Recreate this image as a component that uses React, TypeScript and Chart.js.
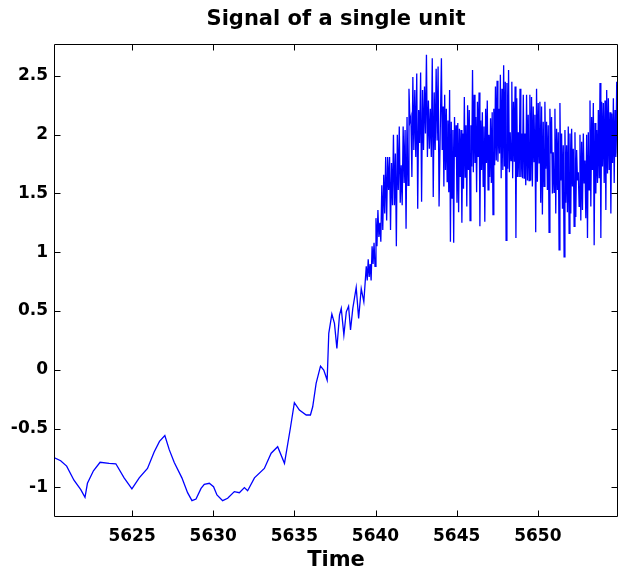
import React, { useEffect, useRef } from "react";
import { Chart, registerables } from "chart.js";

Chart.register(...registerables);

const TITLE = "Signal of a single unit";
const X_LABEL = "Time";
const X_MIN = 5620.19;
const X_MAX = 5654.94;
const Y_MIN = -1.253;
const Y_MAX = 2.77;
const xTickValues = [5625, 5630, 5635, 5640, 5645, 5650];
const yTickValues = [-1, -0.5, 0, 0.5, 1, 1.5, 2, 2.5];

// slow part of the signal (before the burst)
const smoothTimes = [
  5620.19, 5620.6, 5620.97, 5621.42, 5621.84, 5622.1, 5622.25, 5622.62, 5623.03, 5623.59,
  5624.0, 5624.51, 5624.99, 5625.44, 5625.95, 5626.36, 5626.69, 5627.02, 5627.29, 5627.6,
  5628.07, 5628.42, 5628.69, 5628.94, 5629.25, 5629.45, 5629.76, 5630.02, 5630.23, 5630.58,
  5630.89, 5631.3, 5631.61, 5631.92, 5632.12, 5632.54, 5633.15, 5633.57, 5633.97, 5634.39,
  5634.75, 5635.0, 5635.31, 5635.73, 5635.99, 5636.13, 5636.34, 5636.61, 5636.81, 5637.02,
  5637.12, 5637.31, 5637.47, 5637.62, 5637.78, 5637.89, 5638.05, 5638.2, 5638.34, 5638.46,
  5638.6, 5638.81, 5638.96, 5639.12, 5639.28,
];
const smoothValues = [
  -0.748, -0.774, -0.82, -0.94, -1.02, -1.085, -0.966, -0.86, -0.787, -0.796,
  -0.8, -0.92, -1.014, -0.92, -0.84, -0.7, -0.61, -0.56, -0.68, -0.79,
  -0.92, -1.046, -1.114, -1.1, -1.01, -0.975, -0.966, -0.995, -1.065, -1.114,
  -1.094, -1.037, -1.046, -1.003, -1.03, -0.92, -0.84, -0.71, -0.655, -0.796,
  -0.5, -0.28, -0.343, -0.385, -0.385, -0.315, -0.116, 0.031, -0.003, -0.088,
  0.31, 0.474, 0.395, 0.182, 0.465, 0.522, 0.295, 0.493, 0.54, 0.338,
  0.522, 0.7, 0.437, 0.69, 0.578,
];

// burst: each oscillation has a peak value and a trough value
const burstAStart = 5639.43;
const burstAStep = 0.1196;
const burstAHigh = [
  0.88, 0.94, 0.9, 1.05, 1.08, 1.29, 1.36, 1.25, 1.57, 1.66,
  1.81, 1.81, 1.81, 1.76, 2.0, 1.84, 2.0, 2.07, 1.74, 2.07,
  2.04, 2.15, 2.39, 2.15, 2.49, 2.38, 2.52, 2.21, 2.53, 2.38,
  2.41, 2.68, 2.29, 2.22, 2.65, 2.36, 2.56, 2.58,
];
const burstALow = [
  0.76, 0.79, 0.76, 0.9, 0.88, 1.05, 1.13, 1.09, 1.19, 1.33,
  1.27, 1.53, 1.19, 1.4, 1.4, 1.05, 1.53, 1.42, 1.4, 1.59,
  1.2, 1.57, 2.11, 1.64, 1.87, 1.81, 1.37, 1.93, 1.43, 1.87,
  2.01, 1.81, 1.88, 1.81, 1.47, 1.87, 1.95, 1.39,
];

const burstBStart = 5644.06;
const burstBStep = 0.1009;
const burstBHigh = [
  2.65, 2.24, 2.34, 2.22, 2.12, 2.38, 2.11, 2.04, 2.15, 2.08,
  2.1, 2.05, 2.04, 2.01, 2.32, 2.08, 2.25, 2.21, 2.08, 2.55,
  2.34, 2.15, 2.28, 2.36, 2.12, 2.19, 2.07, 2.22, 2.29, 2.0,
  2.14, 2.19, 2.22, 2.41, 2.46, 2.22, 2.51, 2.39, 2.59, 2.45,
  2.44, 2.55, 2.02, 2.45, 2.28, 2.41, 2.31, 2.02, 2.39, 2.01,
  2.34, 2.01, 2.34, 2.17,
];
const burstBLow = [
  1.87, 1.56, 1.7, 1.6, 1.51, 1.09, 1.46, 1.08, 1.81, 1.42,
  1.34, 1.64, 1.25, 1.54, 1.64, 1.39, 1.7, 1.27, 1.73, 1.68,
  1.76, 1.51, 1.81, 1.22, 1.7, 1.56, 1.26, 1.76, 1.53, 1.64,
  1.59, 1.32, 1.74, 1.78, 1.77, 1.84, 1.63, 1.7, 1.73, 1.1,
  1.71, 1.68, 1.78, 1.63, 1.77, 1.12, 1.64, 1.64, 1.64, 1.63,
  1.63, 1.57, 1.61, 1.61,
];

const burstCStart = 5649.51;
const burstCStep = 0.1029;
const burstCHigh = [
  2.34, 2.32, 2.24, 2.17, 2.39, 2.27, 2.28, 2.24, 2.11, 2.28,
  2.11, 2.08, 2.22, 2.15, 1.85, 2.22, 2.05, 2.02, 2.27, 2.01,
  1.91, 2.04, 1.91, 2.07, 2.01, 2.05, 1.88, 2.02, 1.87, 1.68,
  2.0, 1.94, 2.01, 1.78, 2.0, 2.02, 2.29, 2.15, 2.27, 2.1,
  2.04, 2.21, 2.44, 2.28, 2.27, 2.29, 2.38, 2.31, 2.19, 2.18,
  2.31, 2.21, 2.45,
];
const burstCLow = [
  1.61, 1.56, 1.77, 1.17, 1.6, 1.76, 1.42, 1.32, 1.56, 1.71,
  1.53, 1.17, 1.84, 1.5, 1.51, 1.33, 1.53, 1.02, 1.61, 1.37,
  0.96, 1.42, 1.34, 1.16, 1.33, 1.56, 1.22, 1.3, 1.61, 1.39,
  1.27, 1.36, 1.59, 1.29, 1.12, 1.53, 1.39, 1.7, 1.06, 1.5,
  1.59, 1.63, 1.12, 1.73, 1.59, 1.36, 1.67, 1.7, 1.33, 1.76,
  1.59, 1.81, 1.84,
];

type Pt = { x: number; y: number };

function buildPoints(): Pt[] {
  const pts: Pt[] = smoothTimes.map((t, i) => ({ x: t, y: smoothValues[i] }));
  const add = (start: number, step: number, hi: number[], lo: number[]) => {
    hi.forEach((h, i) => {
      const t = start + i * step;
      pts.push({ x: t, y: h });
      pts.push({ x: t + step / 2, y: lo[i] });
    });
  };
  add(burstAStart, burstAStep, burstAHigh, burstALow);
  add(burstBStart, burstBStep, burstBHigh, burstBLow);
  add(burstCStart, burstCStep, burstCHigh, burstCLow);
  return pts;
}

const FONT = "'DejaVu Sans', 'Liberation Sans', Arial, sans-serif";

const framePlugin = {
  id: "matlabFrame",
  afterDatasetsDraw(chart: any) {
    const { ctx, chartArea: a, scales } = chart;
    ctx.save();
    ctx.strokeStyle = "#000";
    ctx.lineWidth = 1;
    const L = Math.round(a.left) + 0.5;
    const R = Math.round(a.right) - 0.5;
    const T = Math.round(a.top) + 0.5;
    const B = Math.round(a.bottom) - 0.5;
    ctx.beginPath();
    ctx.rect(L, T, R - L, B - T);
    const len = 6;
    for (const v of xTickValues) {
      const x = Math.round(scales.x.getPixelForValue(v)) + 0.5;
      ctx.moveTo(x, B);
      ctx.lineTo(x, B - len);
      ctx.moveTo(x, T);
      ctx.lineTo(x, T + len);
    }
    for (const v of yTickValues) {
      const y = Math.round(scales.y.getPixelForValue(v)) + 0.5;
      ctx.moveTo(L, y);
      ctx.lineTo(L + len, y);
      ctx.moveTo(R, y);
      ctx.lineTo(R - len, y);
    }
    ctx.stroke();
    ctx.restore();
  },
};

export default function App() {
  const canvasRef = useRef<HTMLCanvasElement | null>(null);

  useEffect(() => {
    if (!canvasRef.current) return;
    Chart.defaults.font.family = FONT;
    Chart.defaults.color = "#000";
    const chart = new Chart(canvasRef.current, {
      type: "line",
      data: {
        datasets: [
          {
            label: "signal",
            data: buildPoints(),
            borderColor: "#0000ff",
            borderWidth: 1.3,
            pointRadius: 0,
            tension: 0,
            fill: false,
          },
        ],
      },
      options: {
        responsive: false,
        animation: false,
        parsing: false,
        layout: { padding: { left: 0, right: 9, top: 0, bottom: 0 } },
        plugins: {
          legend: { display: false },
          tooltip: { enabled: false },
          title: {
            display: true,
            text: TITLE,
            fullSize: false,
            color: "#000",
            font: { family: FONT, size: 21, weight: "bold", lineHeight: 1.2 },
            padding: { top: 7, bottom: 12 },
          },
        },
        scales: {
          x: {
            type: "linear",
            min: X_MIN,
            max: X_MAX,
            grid: { display: false, drawTicks: false },
            border: { display: false },
            afterBuildTicks: (s: any) => {
              s.ticks = xTickValues.map((v) => ({ value: v }));
            },
            afterFit: (s: any) => {
              s.height = 56;
            },
            ticks: {
              padding: 9,
              color: "#000",
              maxRotation: 0,
              autoSkip: false,
              font: { family: FONT, size: 17, weight: "bold" },
              callback: (v: any) => String(v),
            },
            title: {
              display: true,
              text: X_LABEL,
              color: "#000",
              font: { family: FONT, size: 21, weight: "bold", lineHeight: 1.2 },
              padding: { top: 0, bottom: 0 },
            },
          },
          y: {
            type: "linear",
            min: Y_MIN,
            max: Y_MAX,
            grid: { display: false, drawTicks: false },
            border: { display: false },
            afterBuildTicks: (s: any) => {
              s.ticks = yTickValues.map((v) => ({ value: v }));
            },
            afterFit: (s: any) => {
              s.width = 54;
            },
            ticks: {
              padding: 6,
              color: "#000",
              autoSkip: false,
              font: { family: FONT, size: 17, weight: "bold" },
              callback: (v: any) => String(v),
            },
          },
        },
      },
      plugins: [framePlugin],
    });
    return () => chart.destroy();
  }, []);

  return (
    <div
      style={{
        position: "fixed",
        left: 0,
        top: 0,
        width: 627,
        height: 573,
        background: "#fff",
      }}
    >
      <canvas ref={canvasRef} width={627} height={573} style={{ width: 627, height: 573 }} />
    </div>
  );
}
